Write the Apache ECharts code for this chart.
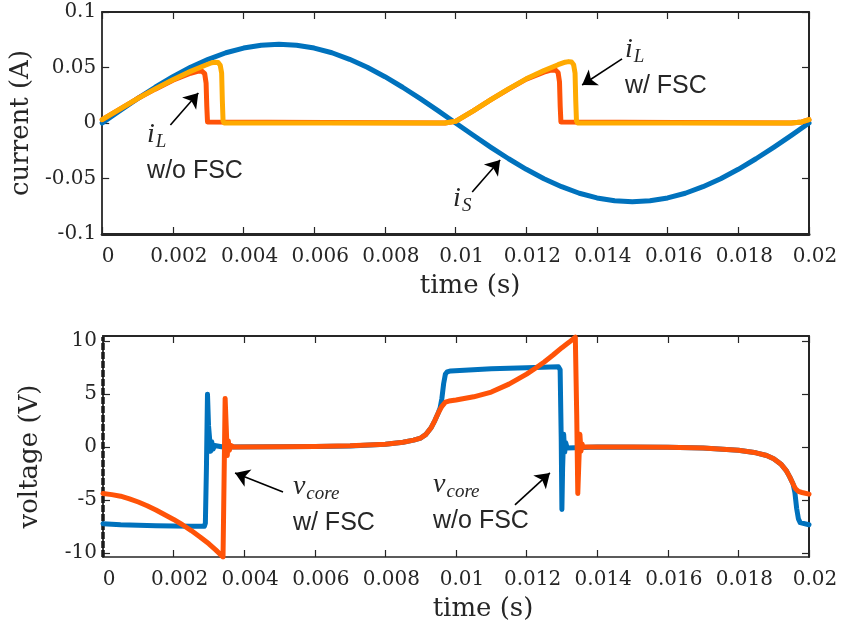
<!DOCTYPE html>
<html><head><meta charset="utf-8">
<script src="https://cdn.jsdelivr.net/npm/echarts@6/dist/echarts.min.js"></script>
<style>html,body{margin:0;padding:0;background:#fff}#c{width:847px;height:628px}</style>
</head><body><div id="c"></div>
<script>
// ---------- data (time in s) ----------
const iS = [[0,0],[0.0005,0.0111],[0.001,0.0219],[0.0015,0.0322],[0.002,0.0417],[0.0025,0.0502],[0.003,0.0574],[0.0035,0.0633],[0.004,0.0675],[0.0045,0.0701],[0.005,0.0710],[0.0055,0.0701],[0.006,0.0675],[0.0065,0.0633],[0.007,0.0574],[0.0075,0.0502],[0.008,0.0417],[0.0085,0.0322],[0.009,0.0219],[0.0095,0.0111],[0.01,0],[0.0105,-0.0111],[0.011,-0.0219],[0.0115,-0.0322],[0.012,-0.0417],[0.0125,-0.0502],[0.013,-0.0574],[0.0135,-0.0633],[0.014,-0.0675],[0.0145,-0.0701],[0.015,-0.0710],[0.0155,-0.0701],[0.016,-0.0675],[0.0165,-0.0633],[0.017,-0.0574],[0.0175,-0.0502],[0.018,-0.0417],[0.0185,-0.0322],[0.019,-0.0219],[0.0195,-0.0111],[0.02,0]];
const iLnoFSC = [[0,0.003],[0.0005,0.0125],[0.001,0.022],[0.0015,0.0305],[0.002,0.0385],[0.0025,0.0448],[0.0027,0.0466],[0.00282,0.0468],[0.0029,0.0445],[0.00294,0.036],[0.00296,0.015],[0.00298,0.001],[0.003,0],[0.0097,0],[0.01,0.0015],[0.0105,0.011],[0.011,0.021],[0.0115,0.0305],[0.012,0.0395],[0.0125,0.0458],[0.0127,0.0476],[0.01282,0.0478],[0.0129,0.0455],[0.01294,0.037],[0.01296,0.015],[0.01298,0.001],[0.013,0],[0.0195,0],[0.0198,0.001],[0.02,0.003]];
const iLFSC = [[0,0.003],[0.0005,0.0125],[0.001,0.022],[0.0015,0.0307],[0.002,0.039],[0.0025,0.0465],[0.0029,0.0518],[0.0031,0.0543],[0.0032,0.0548],[0.00328,0.0545],[0.00334,0.052],[0.00338,0.045],[0.0034,0.02],[0.00342,0.002],[0.00345,0],[0.0097,0],[0.01,0.0015],[0.0105,0.011],[0.011,0.021],[0.0115,0.0307],[0.012,0.0398],[0.0125,0.0472],[0.0129,0.0525],[0.0131,0.0548],[0.0132,0.0553],[0.01328,0.055],[0.01334,0.0525],[0.01338,0.045],[0.0134,0.02],[0.01342,0.002],[0.01345,0],[0.0195,0],[0.0198,0.001],[0.02,0.003]];
const vNoFSC = [[0,-7.25],[0.0005,-7.35],[0.001,-7.4],[0.0015,-7.45],[0.002,-7.48],[0.0025,-7.5],[0.00287,-7.5],[0.0029,-7.2],[0.00293,-2],[0.00296,5.0],[0.00299,2],[0.00302,0.8],[0.00305,-0.4],[0.00308,0.5],[0.00312,-0.2],[0.00316,0.15],[0.0032,0],[0.0034,0],[0.005,0.02],[0.006,0.05],[0.007,0.1],[0.008,0.27],[0.0085,0.45],[0.0088,0.65],[0.009,0.85],[0.00915,1.2],[0.0093,1.85],[0.0094,2.5],[0.0095,3.25],[0.00955,3.7],[0.0096,4.6],[0.00965,6.0],[0.0097,6.9],[0.00975,7.1],[0.00985,7.2],[0.011,7.4],[0.012,7.5],[0.0129,7.6],[0.01295,7.3],[0.01298,1],[0.013,-5.9],[0.01302,-2],[0.01305,1.2],[0.01308,-0.5],[0.01311,0.4],[0.01315,-0.1],[0.0132,0],[0.014,0],[0.016,-0.03],[0.017,-0.1],[0.018,-0.3],[0.0185,-0.55],[0.0188,-0.8],[0.019,-1.1],[0.0192,-1.6],[0.01935,-2.2],[0.01945,-2.8],[0.01955,-3.5],[0.0196,-4.3],[0.01965,-5.8],[0.0197,-6.8],[0.01975,-7.15],[0.0198,-7.25],[0.02,-7.35]];
const vFSC = [[0,-4.4],[0.00025,-4.5],[0.0005,-4.65],[0.00075,-4.9],[0.001,-5.2],[0.00125,-5.55],[0.0015,-5.95],[0.00175,-6.4],[0.002,-6.85],[0.00225,-7.35],[0.0025,-7.9],[0.00275,-8.5],[0.003,-9.15],[0.0032,-9.75],[0.0034,-10.4],[0.00343,-3],[0.00346,4.6],[0.00349,2],[0.00352,-0.8],[0.00355,0.6],[0.00358,-0.3],[0.00362,0.15],[0.0037,0],[0.005,0.03],[0.006,0.06],[0.007,0.12],[0.008,0.27],[0.0085,0.45],[0.0088,0.65],[0.009,0.85],[0.00915,1.2],[0.0093,1.85],[0.0094,2.5],[0.0095,3.25],[0.0096,3.85],[0.0097,4.25],[0.0098,4.35],[0.01,4.45],[0.0105,4.75],[0.011,5.2],[0.0115,5.95],[0.012,6.9],[0.01225,7.45],[0.0125,8.05],[0.01275,8.7],[0.013,9.4],[0.0132,9.9],[0.01338,10.4],[0.01342,3],[0.01345,-4.4],[0.01348,-1.5],[0.01351,1.2],[0.01354,-0.4],[0.01357,0.3],[0.0136,0],[0.015,0],[0.016,-0.02],[0.017,-0.1],[0.018,-0.3],[0.0185,-0.55],[0.0188,-0.8],[0.019,-1.1],[0.0192,-1.6],[0.01935,-2.2],[0.01945,-2.8],[0.01955,-3.5],[0.01962,-3.95],[0.0197,-4.2],[0.0198,-4.3],[0.02,-4.45]];
const vEdge = [[0,-10.4],[0,10.4]];
const xTicks = [0,0.002,0.004,0.006,0.008,0.01,0.012,0.014,0.016,0.018,0.02];
const vTicks = [-10,-5,0,5,10];

// ---------- styles ----------
const BLUE='#0072BD', RED='#FF5308', YEL='#FFAA00', AX='#262626';
const SERIF='DejaVu Serif', ISERIF='Liberation Serif', SANS='Liberation Sans';
const fmt = v => String(parseFloat(Number(v).toFixed(4)));
const rich = {
  m:{fontFamily:ISERIF,fontStyle:'italic',fontSize:28,color:AX,lineHeight:36},
  s:{fontFamily:ISERIF,fontStyle:'italic',fontSize:19,color:AX,lineHeight:36,padding:[14,0,0,1]},
  t:{fontFamily:SANS,fontSize:25,color:AX,lineHeight:36}
};
const lab = (extra) => Object.assign({fontFamily:SERIF,fontSize:20,color:AX,formatter:fmt}, extra);
function xAx(gi, top, shift){
  return {type:'value',gridIndex:gi,min:0,max:0.02,position:top?'top':'bottom',
    axisLabel:lab({show:!top,customValues:xTicks,margin:13,padding:[0,0,0,12]}),
    axisTick:{show:true,inside:true,length:7,customValues:xTicks,lineStyle:{color:AX,width:1.2}},
    axisLine:{show:true,onZero:false,lineStyle:{color:AX,width:top?1.8:(gi===0?3:1.6)}},
    splitLine:{show:false},
    name:top?'':'time (s)',nameLocation:'middle',nameGap:39,
    nameTextStyle:{fontFamily:SERIF,fontSize:26,color:AX,padding:[0,0,0,shift||0]}};
}
function yAx(gi, right, o){
  return Object.assign({type:'value',gridIndex:gi,position:right?'right':'left',
    axisLabel:lab({show:!right,margin:6}),
    axisTick:{show:true,inside:true,length:7,lineStyle:{color:AX,width:1.2}},
    axisLine:{show:true,onZero:false,lineStyle:{color:AX,width:right?2:1.8}},
    splitLine:{show:false},nameLocation:'middle',nameRotate:90,nameGap:60,
    nameTextStyle:{fontFamily:SERIF,fontSize:26,color:AX}}, o);
}
function lineS(data, color, xi, yi, extra){
  return Object.assign({type:'line',data:data,xAxisIndex:xi,yAxisIndex:yi,showSymbol:false,symbol:'none',
    lineStyle:{color:color,width:5,cap:'round',join:'round'},itemStyle:{color:color},silent:true}, extra||{});
}
function textMark(coord, fmtStr){
  return {coord:coord,symbol:'circle',symbolSize:1,itemStyle:{color:'rgba(0,0,0,0)'},
    label:{show:true,position:'inside',align:'left',verticalAlign:'top',formatter:fmtStr,rich:rich}};
}
function arrow(a,b){ return [{coord:a,symbol:'none'},{coord:b,symbol:'arrow'}]; }
const mlBase = {silent:true,symbolSize:14,label:{show:false},lineStyle:{color:'#000',width:1.6,type:'solid'},emphasis:{disabled:true}};
const mpBase = {silent:true,emphasis:{disabled:true}};
const vTickStyle = {show:true,inside:true,length:7,customValues:vTicks,lineStyle:{color:AX,width:1.2}};

const option = {
  animation:false,
  backgroundColor:'#fff',
  textStyle:{fontFamily:SERIF},
  grid:[{left:102,top:12,width:707,height:222},{left:103,top:336,width:706,height:221}],
  xAxis:[xAx(0,false,29),xAx(0,true),xAx(1,false,54),xAx(1,true)],
  yAxis:[
    yAx(0,false,{min:-0.1,max:0.1,interval:0.05,name:'current (A)'}),
    yAx(0,true,{min:-0.1,max:0.1,interval:0.05}),
    yAx(1,false,{min:-10.4,max:10.5,name:'voltage (V)',axisLabel:lab({show:true,customValues:vTicks,margin:6}),axisTick:vTickStyle,
      nameTextStyle:{fontFamily:SERIF,fontSize:26,color:AX,padding:[0,20,0,0]}}),
    yAx(1,true,{min:-10.4,max:10.5,axisLabel:{show:false},axisTick:vTickStyle})
  ],
  series:[
    lineS(iS,BLUE,0,0,{
      markLine:Object.assign({},mlBase,{data:[arrow([0.00193,-0.0018],[0.00272,0.027]),arrow([0.01471,0.0577],[0.01358,0.0342]),arrow([0.01047,-0.0622],[0.01126,-0.0333])]}),
      markPoint:Object.assign({},mpBase,{data:[
        textMark([0.00127,0.0054],'{m|i}{s|L}\n{t|w/o FSC}'),
        textMark([0.01479,0.082],'{m|i}{s|L}\n{t|w/ FSC}'),
        textMark([0.00993,-0.0523],'{m|i}{s|S}')]})
    }),
    lineS(iLnoFSC,RED,0,0),
    lineS(iLFSC,YEL,0,0),
    lineS(vEdge,'#1a1a1a',2,2,{clip:false,lineStyle:{color:'#1a1a1a',width:3.5,type:[7,2],cap:'butt'}}),
    lineS(vNoFSC,BLUE,2,2,{
      markLine:Object.assign({},mlBase,{data:[arrow([0.0051,-4.25],[0.00374,-2.45]),arrow([0.01167,-5.47],[0.01266,-2.45])]}),
      markPoint:Object.assign({},mpBase,{data:[
        textMark([0.00538,-2.08],'{m|v}{s|core}\n{t|w/ FSC}'),
        textMark([0.00935,-1.89],'{m|v}{s|core}\n{t|w/o FSC}')]})
    }),
    lineS(vFSC,RED,2,2)
  ]
};
const chart = echarts.init(document.getElementById('c'),null,{renderer:'canvas'});
chart.setOption(option);
</script></body></html>
